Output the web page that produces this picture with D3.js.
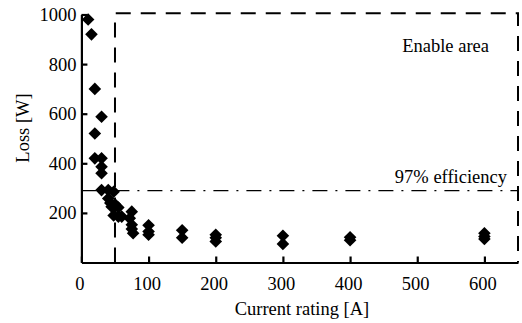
<!DOCTYPE html>
<html>
<head>
<meta charset="utf-8">
<script src="https://cdn.jsdelivr.net/npm/d3@7"></script>
<style>
  html, body { margin: 0; padding: 0; background: #fff; }
  svg text { font-family: "Liberation Serif", "Times New Roman", Times, "DejaVu Serif", serif !important; fill: #000; }
</style>
</head>
<body>
<svg id="chart" width="522" height="323"></svg>
<script>
// data
const currents = [10, 15, 20, 30, 20, 20, 30, 30, 30, 30, 40, 48, 40, 43, 45, 50, 55, 48, 55, 60,
                  75, 72, 75, 75, 77, 100, 100, 100, 150, 150, 200, 200, 200, 300, 300, 400, 400, 600, 600, 600];
const losses   = [980, 920, 700, 588, 520, 420, 420, 386, 360, 292, 292, 285, 258, 240, 225, 235, 222, 190, 185, 185,
                  205, 178, 152, 135, 118, 150, 125, 112, 130, 100, 112, 100, 85, 108, 75, 102, 90, 118, 105, 95];
const xTicks = [0, 100, 200, 300, 400, 500, 600];
const yTicks = [200, 400, 600, 800, 1000];
const efficiencyLoss = 290;              // 97% efficiency line
const enableArea = { x0: 50, x1: 650, y0: 0, y1: 1005 };

const svg = d3.select("#chart");
const margin = { top: 14.5, right: 4, bottom: 60.5, left: 81.4 };
const W = 522, H = 323;

const x = d3.scaleLinear().domain([0, 650]).range([margin.left, W - margin.right]);
const y = d3.scaleLinear().domain([0, 1000]).range([H - margin.bottom, margin.top]);

// enable area (dashed box)
svg.append("path")
  .attr("d", `M${x(enableArea.x0)},${y(enableArea.y0)} V${y(enableArea.y1)} H${x(enableArea.x1)} V${y(enableArea.y0)}`)
  .attr("fill", "none")
  .attr("stroke", "#000")
  .attr("stroke-width", 2)
  .attr("stroke-dasharray", "15,10");

// 97% efficiency line (dash-dot)
svg.append("line")
  .attr("x1", x(0)).attr("x2", x(enableArea.x1))
  .attr("y1", y(efficiencyLoss)).attr("y2", y(efficiencyLoss))
  .attr("stroke", "#000")
  .attr("stroke-width", 1.4)
  .attr("stroke-dasharray", "15,8,2,8");

svg.append("text")
  .attr("x", 507).attr("y", 183)
  .attr("text-anchor", "end")
  .attr("font-size", 18.5)
  .text("97% efficiency");

svg.append("text")
  .attr("x", 489).attr("y", 52)
  .attr("text-anchor", "end")
  .attr("font-size", 18.5)
  .text("Enable area");

// markers
const diamond = (cx, cy, r) => `M${cx},${cy - r} L${cx + r},${cy} L${cx},${cy + r} L${cx - r},${cy} Z`;
svg.append("g")
  .selectAll("path")
  .data(currents.map((c, i) => ({ c, l: losses[i] })))
  .join("path")
  .attr("d", d => diamond(x(d.c), y(d.l), 6.3))
  .attr("fill", "#000");

// axes
const xAxis = svg.append("g")
  .attr("transform", `translate(0,${y(0)})`)
  .call(d3.axisBottom(x).tickValues(xTicks).tickFormat(d3.format("d"))
    .tickSize(-6).tickSizeOuter(0).tickPadding(14));
const yAxis = svg.append("g")
  .attr("transform", `translate(${x(0)},0)`)
  .call(d3.axisLeft(y).tickValues(yTicks).tickFormat(d3.format("d"))
    .tickSize(-6).tickSizeOuter(0).tickPadding(5));

[xAxis, yAxis].forEach(g => {
  g.attr("font-family", null).attr("font-size", null);
  g.select(".domain").attr("stroke-width", 2.2);
  g.selectAll(".tick line").attr("stroke-width", 2.2);
  g.selectAll(".tick text").attr("font-size", 18.5);
});
xAxis.selectAll(".tick text").attr("dx", "-2");

// axis titles
svg.append("text")
  .attr("x", 302).attr("y", 315)
  .attr("text-anchor", "middle")
  .attr("font-size", 18.5)
  .text("Current rating [A]");

svg.append("text")
  .attr("transform", "translate(29,128) rotate(-90)")
  .attr("text-anchor", "middle")
  .attr("font-size", 18.5)
  .text("Loss [W]");
</script>
</body>
</html>
